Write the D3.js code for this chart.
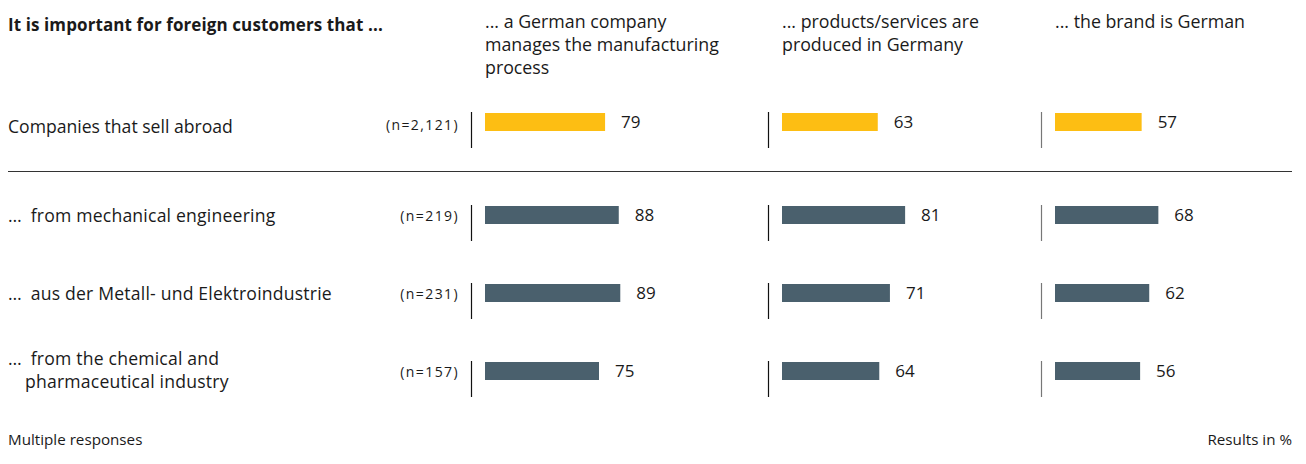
<!DOCTYPE html>
<html>
<head>
<meta charset="utf-8">
<script src="https://cdn.jsdelivr.net/npm/d3@7"></script>
<style>
  html, body { margin: 0; padding: 0; background: #fff; }
  svg { display: block; }
  text { font-family: "Open Sans", "Noto Sans", sans-serif; fill: #1a1a1a; }
</style>
</head>
<body>
<svg id="chart" width="1306" height="464"></svg>
<script>
const title = "It is important for foreign customers that ...";
const categories = [
  "Companies that sell abroad",
  "… from mechanical engineering",
  "… aus der Metall- und Elektroindustrie",
  "… from the chemical and pharmaceutical industry"
];
const categoryLines = [
  ["Companies that sell abroad"],
  ["… from mechanical engineering"],
  ["… aus der Metall- und Elektroindustrie"],
  ["… from the chemical and", "pharmaceutical industry"]
];
const sampleSizes = ["(n=2,121)", "(n=219)", "(n=231)", "(n=157)"];
const seriesHeaders = [
  ["... a German company", "manages the manufacturing", "process"],
  ["... products/services are", "produced in Germany"],
  ["... the brand is German"]
];
const seriesManufacturing = [79, 88, 89, 75];
const seriesProduced = [63, 81, 71, 64];
const seriesBrand = [57, 68, 62, 56];
const series = [seriesManufacturing, seriesProduced, seriesBrand];
const footnoteLeft = "Multiple responses";
const footnoteRight = "Results in %";

const svg = d3.select("#chart");
const colStart = [485, 782, 1055];
const dividerColor = ["#111", "#111", "#777"];
const x = d3.scaleLinear().domain([0, 100]).range([0, 152]);
const barH = 18;
const ySub = d3.scaleLinear().domain([1, 3]).range([215, 371]);
const yRow = i => i === 0 ? 122 : ySub(i);
const colors = i => i === 0 ? "#FDBE13" : "#4A606D";

// title
svg.append("text").attr("x", 8).attr("y", 31)
  .attr("font-size", 17).attr("font-weight", 700).attr("letter-spacing", 0.1).text(title);

// column headers
seriesHeaders.forEach((lines, c) => {
  const t = svg.append("text").attr("x", colStart[c]).attr("y", 28).attr("font-size", 17.8);
  lines.forEach((l, k) => t.append("tspan").attr("x", colStart[c]).attr("dy", k === 0 ? 0 : 23).text(l));
});

// separator
svg.append("line").attr("x1", 8).attr("x2", 1292).attr("y1", 171.5).attr("y2", 171.5)
  .attr("stroke", "#333").attr("stroke-width", 1.2);

// category labels
categories.forEach((cat, i) => {
  const lines = categoryLines[i];
  const yc = yRow(i);
  const t = svg.append("text").attr("font-size", 17.6).attr("letter-spacing", i === 0 ? 0 : 0.2);
  const y0 = (i === 0 ? yc + 11 : yc + 7) - (lines.length - 1) * 13;
  lines.forEach((l, k) => {
    const yy = y0 + k * 23;
    if (l.startsWith("…")) {
      t.append("tspan").attr("x", 8).attr("y", yy).text("…");
      t.append("tspan").attr("dx", 4).text(l.slice(1));
    } else {
      t.append("tspan").attr("x", k === 0 ? 8 : 25).attr("y", yy).text(l);
    }
  });
  svg.append("text").attr("x", 459).attr("y", yc + (i === 0 ? 8 : 6)).attr("text-anchor", "end")
    .attr("font-size", 14).attr("letter-spacing", 1.4).text(sampleSizes[i]);
});

// bars
series.forEach((vals, c) => {
  const g = svg.append("g");
  g.selectAll("line.div").data(vals).join("line")
    .attr("x1", colStart[c] - 13.5).attr("x2", colStart[c] - 13.5)
    .attr("y1", (d, i) => yRow(i) - barH / 2 - 1)
    .attr("y2", (d, i) => yRow(i) + barH / 2 + 17)
    .attr("stroke", dividerColor[c]).attr("stroke-width", 1.2);
  g.selectAll("rect").data(vals).join("rect")
    .attr("x", colStart[c])
    .attr("y", (d, i) => yRow(i) - barH / 2)
    .attr("width", d => x(d))
    .attr("height", barH)
    .attr("fill", (d, i) => colors(i));
  g.selectAll("text.val").data(vals).join("text")
    .attr("x", d => colStart[c] + x(d) + 16)
    .attr("y", (d, i) => yRow(i) + 6)
    .attr("font-size", 17)
    .text(d => d);
});

// footnotes
svg.append("text").attr("x", 8).attr("y", 445).attr("font-size", 15.2).text(footnoteLeft);
svg.append("text").attr("x", 1292).attr("y", 445).attr("text-anchor", "end").attr("font-size", 15.2).text(footnoteRight);
</script>
</body>
</html>
